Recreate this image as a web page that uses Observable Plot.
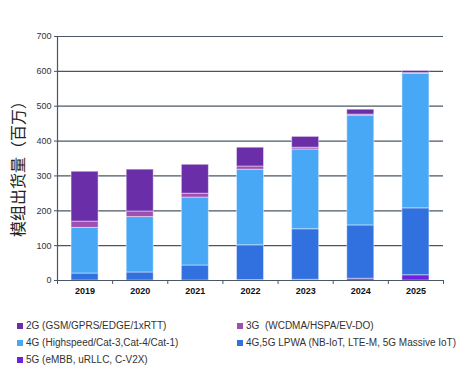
<!DOCTYPE html>
<html><head><meta charset="utf-8">
<script src="https://cdn.jsdelivr.net/npm/d3@7"></script>
<script src="https://cdn.jsdelivr.net/npm/@observablehq/plot@0.6"></script>
<style>
body{margin:0;background:#fff;font-family:"Liberation Sans",Arial,sans-serif;}
#wrap{position:relative;width:461px;height:382px;}
#ylab{position:absolute;left:6px;top:60px;width:22px;height:210px;display:flex;align-items:center;justify-content:center;}
#ylab span{transform:rotate(-90deg);white-space:nowrap;font-family:"Noto Sans CJK SC",sans-serif;font-size:16px;color:#222;}
#legend{position:absolute;left:17px;top:318px;width:444px;display:grid;grid-template-columns:220px 224px;row-gap:2px;font-size:10px;color:#333;}
.li{display:flex;align-items:center;height:15px;white-space:pre;}
.sw{width:6px;height:6px;margin-right:3px;display:inline-block;flex:none;}
</style></head>
<body><div id="wrap"><div id="chart"></div><div id="ylab"><span>模组出货量（百万）</span></div><div id="legend"></div></div>
<script>
const years = [2019, 2020, 2021, 2022, 2023, 2024, 2025];
const series = ["5G (eMBB, uRLLC, C-V2X)", "4G,5G LPWA (NB-IoT, LTE-M, 5G Massive IoT)", "4G (Highspeed/Cat-3,Cat-4/Cat-1)", "3G  (WCDMA/HSPA/EV-DO)", "2G (GSM/GPRS/EDGE/1xRTT)"];
const v5G   = [0, 0, 0, 1, 2, 5, 15];
const vLPWA = [20, 23, 43, 100, 145, 153, 192];
const v4G   = [131, 159, 195, 217, 229, 315, 386];
const v3G   = [18, 16, 11, 9, 5, 3, 2];
const v2G   = [143, 120, 83, 54, 31, 14, 6];
const colors = ["#7020e0", "#3070df", "#48a8f5", "#a04fb0", "#6a2ea8"];
const yTicks = [0, 100, 200, 300, 400, 500, 600, 700];

const valueArrays = [v5G, vLPWA, v4G, v3G, v2G];
const rows = [];
years.forEach((yr, i) => {
  let base = 0;
  series.forEach((s, k) => {
    const v = valueArrays[k][i];
    rows.push({year: yr, series: s, y1: base, y2: base + v});
    base += v;
  });
});
const half = 0.245;
const bounds = d3.range(years[0] - 0.5, years[years.length - 1] + 1, 1);

const plot = Plot.plot({
  width: 461, height: 300,
  marginLeft: 57, marginRight: 18, marginTop: 36, marginBottom: 20,
  style: {fontFamily: "Liberation Sans, Arial, sans-serif", background: "#fff"},
  x: {type: "linear", domain: [years[0] - 0.5, years[years.length - 1] + 0.5]},
  y: {domain: [0, 700]},
  color: {domain: series, range: colors},
  marks: [
    Plot.gridY(yTicks, {stroke: "#4a5665", strokeOpacity: 1, strokeWidth: 1.2}),
    Plot.rect(rows.filter(d => d.y2 > d.y1), {x1: d => d.year - half, x2: d => d.year + half, y1: "y1", y2: "y2", fill: "series", stroke: "#ffffff", strokeOpacity: 0.45, strokeWidth: 1}),
    Plot.ruleY([0], {stroke: "#4a5665", strokeWidth: 1.2}),
    Plot.ruleX([years[0] - 0.5], {stroke: "#4a5665", strokeWidth: 1.2}),
    Plot.axisY(yTicks, {tickSize: 3, tickPadding: 3, fontSize: 9, fill: "#333", stroke: "#4a5665", label: null}),
    Plot.axisX(bounds, {tickSize: 4, tickFormat: () => "", stroke: "#4a5665", label: null}),
    Plot.axisX(years, {tickSize: 0, tickPadding: 7, tickFormat: d => String(d), fontSize: 9, fontWeight: "bold", fill: "#111", label: null})
  ]
});
document.getElementById("chart").appendChild(plot);

const order = [4, 3, 2, 1, 0];
const leg = document.getElementById("legend");
order.forEach(k => {
  const el = document.createElement("div");
  el.className = "li";
  el.innerHTML = `<span class="sw" style="background:${colors[k]}"></span><span>${series[k]}</span>`;
  leg.appendChild(el);
});
</script></body></html>
